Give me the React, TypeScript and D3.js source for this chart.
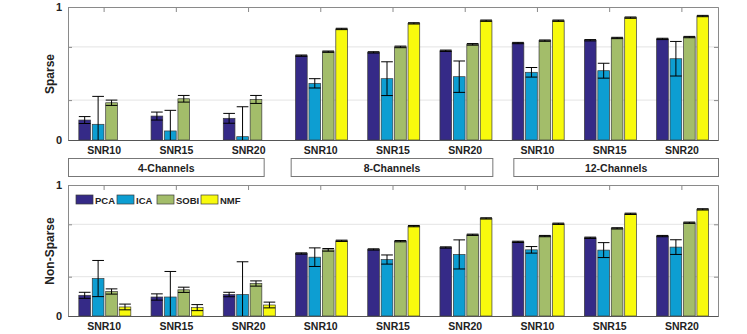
import React, { useEffect, useRef } from 'react';
import * as d3 from 'd3';

// Categories
const channels = ['4-Channels', '8-Channels', '12-Channels'];
const snrs = ['SNR10', 'SNR15', 'SNR20'];
const methods = ['PCA', 'ICA', 'SOBI', 'NMF'];
const colors = ['#352a87', '#0d9ed2', '#a3bd6a', '#f8fa0d'];

// Sparse panel (mean values, order: 4ch SNR10..20, 8ch, 12ch)
const sparsePCA = [0.15, 0.18, 0.163, 0.634, 0.659, 0.671, 0.729, 0.75, 0.76];
const sparseICA = [0.118, 0.068, 0.025, 0.426, 0.461, 0.476, 0.509, 0.521, 0.611];
const sparseSOBI = [0.28, 0.31, 0.305, 0.664, 0.7, 0.719, 0.747, 0.767, 0.774];
const sparseNMF = [0, 0, 0, 0.835, 0.877, 0.897, 0.897, 0.92, 0.932];
const sparsePCAErr = [0.026, 0.03, 0.037, 0.005, 0.005, 0.005, 0.005, 0.005, 0.005];
const sparseICAErr = [0.21, 0.155, 0.225, 0.035, 0.127, 0.118, 0.036, 0.056, 0.13];
const sparseSOBIErr = [0.02, 0.025, 0.03, 0.005, 0.006, 0.006, 0.005, 0.005, 0.005];
const sparseNMFErr = [0, 0, 0, 0.005, 0.005, 0.005, 0.005, 0.005, 0.005];

// Non-sparse panel
const nsPCA = [0.158, 0.145, 0.164, 0.477, 0.508, 0.523, 0.566, 0.597, 0.61];
const nsICA = [0.286, 0.145, 0.164, 0.449, 0.431, 0.47, 0.505, 0.503, 0.526];
const nsSOBI = [0.187, 0.2, 0.248, 0.505, 0.571, 0.62, 0.61, 0.669, 0.712];
const nsNMF = [0.069, 0.064, 0.084, 0.574, 0.686, 0.745, 0.704, 0.78, 0.814];
const nsPCAErr = [0.023, 0.024, 0.017, 0.005, 0.005, 0.005, 0.005, 0.005, 0.005];
const nsICAErr = [0.138, 0.195, 0.25, 0.071, 0.035, 0.111, 0.025, 0.057, 0.056];
const nsSOBIErr = [0.02, 0.02, 0.02, 0.01, 0.005, 0.005, 0.005, 0.005, 0.005];
const nsNMFErr = [0.022, 0.023, 0.022, 0.005, 0.005, 0.005, 0.005, 0.005, 0.005];

const yTicks = [0, 0.3, 0.7, 1];

const App = () => {
  const svgRef = useRef<SVGSVGElement>(null);

  useEffect(() => {
    if (!svgRef.current) return;
    const svg = d3.select(svgRef.current);
    svg.selectAll('*').remove();

    const width = 747;
    const height = 334;
    const left = 68;
    const right = 718;
    const font = 'Liberation Sans, Arial, Helvetica, sans-serif';

    svg.attr('width', width).attr('height', height);

    const groupKeys: string[] = [];
    channels.forEach(c => snrs.forEach(s => groupKeys.push(c + '|' + s)));

    const x0 = d3.scaleBand().domain(groupKeys).range([left, right]).padding(0);
    const bw = x0.bandwidth();
    const x1 = d3.scaleBand()
      .domain(methods)
      .range([bw * 0.15, bw * 0.87])
      .paddingInner(0.13);

    // group annotation boxes are placed by hand in the original (offsets in px from group span)
    const boxInset = [[0.5, -20.5], [6.5, -8.5], [12.5, 0.5]];

    const panels = [
      {
        label: 'Sparse', top: 7, bottom: 140, labelY: 74,
        values: [sparsePCA, sparseICA, sparseSOBI, sparseNMF],
        errs: [sparsePCAErr, sparseICAErr, sparseSOBIErr, sparseNMFErr],
        boxes: true, legend: false,
      },
      {
        label: 'Non-Sparse', top: 185, bottom: 316, labelY: 251,
        values: [nsPCA, nsICA, nsSOBI, nsNMF],
        errs: [nsPCAErr, nsICAErr, nsSOBIErr, nsNMFErr],
        boxes: false, legend: true,
      },
    ];

    panels.forEach(p => {
      const y = d3.scaleLinear().domain([0, 1]).range([p.bottom, p.top]);
      const g = svg.append('g');

      // grid
      g.selectAll('.grid')
        .data(yTicks.filter(t => t > 0 && t < 1))
        .join('line')
        .attr('x1', left).attr('x2', right)
        .attr('y1', d => y(d)).attr('y2', d => y(d))
        .attr('stroke', '#e4e4e4').attr('stroke-width', 1);

      // bars
      const rows: { key: string; m: number; v: number; e: number }[] = [];
      groupKeys.forEach((k, gi) => {
        methods.forEach((_, mi) => {
          rows.push({ key: k, m: mi, v: p.values[mi][gi], e: p.errs[mi][gi] });
        });
      });

      g.selectAll('.bar')
        .data(rows.filter(r => r.v > 0))
        .join('rect')
        .attr('x', d => (x0(d.key) as number) + (x1(methods[d.m]) as number))
        .attr('y', d => y(d.v))
        .attr('width', x1.bandwidth())
        .attr('height', d => y(0) - y(d.v))
        .attr('fill', d => colors[d.m])
        .attr('stroke', '#3a3a3a')
        .attr('stroke-width', 0.7);

      // error bars
      const eg = g.selectAll('.err')
        .data(rows.filter(r => r.v > 0))
        .join('g');
      const cx = (d: any) => (x0(d.key) as number) + (x1(methods[d.m]) as number) + x1.bandwidth() / 2;
      const hw = x1.bandwidth() / 2;
      eg.append('line')
        .attr('x1', cx).attr('x2', cx)
        .attr('y1', d => y(d.v + d.e))
        .attr('y2', d => y(Math.max(0, d.v - d.e)))
        .attr('stroke', '#000').attr('stroke-width', 1);
      eg.append('line')
        .attr('x1', d => cx(d) - hw).attr('x2', d => cx(d) + hw)
        .attr('y1', d => y(d.v + d.e)).attr('y2', d => y(d.v + d.e))
        .attr('stroke', '#000').attr('stroke-width', 1);
      eg.filter(d => d.v - d.e >= 0)
        .append('line')
        .attr('x1', d => cx(d) - hw).attr('x2', d => cx(d) + hw)
        .attr('y1', d => y(d.v - d.e)).attr('y2', d => y(d.v - d.e))
        .attr('stroke', '#000').attr('stroke-width', 1);

      // axes
      const leftAxis = g.append('g')
        .attr('transform', `translate(${left},0)`)
        .call(d3.axisLeft(y).tickValues(yTicks).tickSize(-4).tickPadding(6)
          .tickFormat(d => (d === 0 || d === 1 ? String(d) : '')));
      const rightAxis = g.append('g')
        .attr('transform', `translate(${right},0)`)
        .call(d3.axisRight(y).tickValues(yTicks).tickSize(-4).tickFormat(() => ''));
      const topAxis = g.append('g')
        .attr('transform', `translate(0,${p.top})`)
        .call(d3.axisTop(x0).tickSize(-5).tickSizeOuter(0).tickFormat(() => ''));
      const bottomAxis = g.append('g')
        .attr('transform', `translate(0,${p.bottom})`)
        .call(d3.axisBottom(x0).tickSize(0).tickPadding(7)
          .tickFormat(d => String(d).split('|')[1]));

      [leftAxis, rightAxis, topAxis].forEach(a => {
        a.selectAll('path, line').attr('stroke', '#8a8a8a');
      });
      bottomAxis.select('path').attr('stroke', '#555');
      leftAxis.selectAll('text')
        .attr('font-family', font).attr('font-size', 11).attr('font-weight', 'bold').attr('fill', '#222');
      bottomAxis.selectAll('text')
        .attr('font-family', font).attr('font-size', 10.5).attr('font-weight', 'bold').attr('fill', '#222');

      // y label
      svg.append('text')
        .attr('transform', `translate(54,${p.labelY}) rotate(-90)`)
        .attr('text-anchor', 'middle')
        .attr('font-family', font).attr('font-size', 12).attr('font-weight', 'bold')
        .attr('fill', '#222')
        .text(p.label);

      // channel boxes
      if (p.boxes) {
        const bx0 = (c: string, i: number) => (x0(c + '|' + snrs[0]) as number) + boxInset[i][0];
        const bx1 = (c: string, i: number) => (x0(c + '|' + snrs[2]) as number) + bw + boxInset[i][1];
        const boxes = g.selectAll('.box')
          .data(channels)
          .join('g');
        boxes.append('rect')
          .attr('x', (c, i) => bx0(c, i))
          .attr('y', 158.5)
          .attr('width', (c, i) => bx1(c, i) - bx0(c, i))
          .attr('height', 18)
          .attr('fill', '#fff')
          .attr('stroke', '#777')
          .attr('stroke-width', 1);
        boxes.append('text')
          .attr('x', (c, i) => (bx0(c, i) + bx1(c, i)) / 2)
          .attr('y', 171.5)
          .attr('text-anchor', 'middle')
          .attr('font-family', font).attr('font-size', 10.5).attr('font-weight', 'bold')
          .attr('fill', '#222')
          .text(c => c);
      }

      // legend
      if (p.legend) {
        const lx = [76, 117, 157, 201];
        const lg = g.selectAll('.leg')
          .data(methods)
          .join('g')
          .attr('transform', (_, i) => `translate(${lx[i]},195)`);
        lg.append('rect')
          .attr('width', 17).attr('height', 9)
          .attr('fill', (_, i) => colors[i])
          .attr('stroke', '#3a3a3a').attr('stroke-width', 0.7);
        lg.append('text')
          .attr('x', 19).attr('y', 8.5)
          .attr('font-family', font).attr('font-size', 9.5).attr('font-weight', 'bold')
          .attr('fill', '#222')
          .text(d => d);
      }
    });
  }, []);

  return <svg ref={svgRef} style={{ position: 'absolute', left: 0, top: 0, background: '#fff' }} />;
};

export default App;
